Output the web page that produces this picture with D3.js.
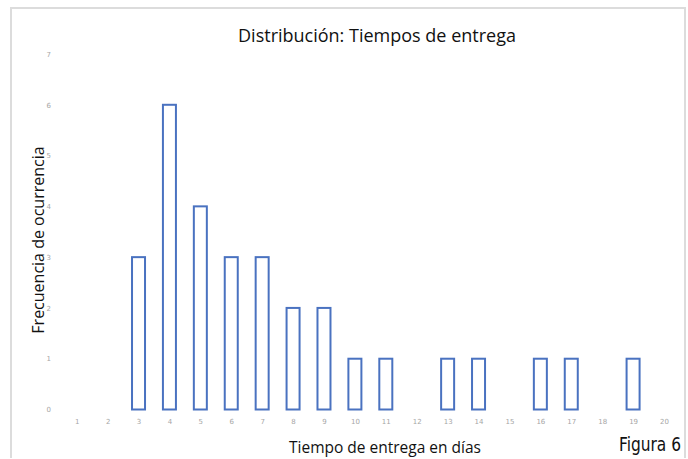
<!DOCTYPE html>
<html>
<head>
<meta charset="utf-8">
<script src="https://cdn.jsdelivr.net/npm/d3@7"></script>
<style>
  body { margin: 0; background: #fff; }
  svg { display: block; }
</style>
</head>
<body>
<script>
// tiempos de entrega (dias) y frecuencia
var dias = [1, 2, 3, 4, 5, 6, 7, 8, 9, 10, 11, 12, 13, 14, 15, 16, 17, 18, 19, 20];
var frecuencia = [0, 0, 3, 6, 4, 3, 3, 2, 2, 1, 1, 0, 1, 1, 0, 1, 1, 0, 1, 0];
var yTicks = [0, 1, 2, 3, 4, 5, 6, 7];

var width = 688, height = 459;

var svg = d3.select("body").append("svg")
    .attr("width", width)
    .attr("height", height);

// marco gris
svg.append("path")
    .attr("d", "M11,458 L11,8 L685,8 L685,458")
    .attr("fill", "none")
    .attr("stroke", "#dcdcdc")
    .attr("stroke-width", 2);

var x = d3.scalePoint()
    .domain(dias)
    .range([76.7, 664]);

var y = d3.scaleLinear()
    .domain([0, 7])
    .range([409.5, 54]);

var barW = 13;

// ejes sin lineas, solo etiquetas
var xAxis = svg.append("g")
    .attr("transform", "translate(0,409.5)")
    .call(d3.axisBottom(x).tickSize(0).tickPadding(10));
xAxis.select(".domain").remove();
xAxis.selectAll("text")
    .attr("fill", "#a6a6a6")
    .style("font-family", "'DejaVu Sans'")
    .style("font-size", "7px");

var yAxis = svg.append("g")
    .attr("transform", "translate(54,0)")
    .call(d3.axisLeft(y).tickValues(yTicks).tickFormat(d3.format("d")).tickSize(0).tickPadding(3));
yAxis.select(".domain").remove();
yAxis.selectAll("text")
    .attr("fill", "#a6a6a6")
    .style("font-family", "'DejaVu Sans'")
    .style("font-size", "7px");

svg.append("g")
    .selectAll("rect")
    .data(dias.filter(function(d, i) { return frecuencia[i] > 0; }))
    .enter().append("rect")
    .attr("x", function(d) { return x(d) - barW / 2; })
    .attr("y", function(d) { return y(frecuencia[d - 1]); })
    .attr("width", barW)
    .attr("height", function(d) { return y(0) - y(frecuencia[d - 1]); })
    .attr("fill", "#fff")
    .attr("stroke", "#4a72c0")
    .attr("stroke-width", 2);

svg.append("text")
    .attr("x", 377)
    .attr("y", 42)
    .attr("text-anchor", "middle")
    .style("font-family", "'Open Sans'")
    .style("font-size", "18px")
    .attr("fill", "#111")
    .text("Distribución: Tiempos de entrega");

svg.append("text")
    .attr("transform", "translate(44,240) rotate(-90)")
    .attr("text-anchor", "middle")
    .style("font-family", "'Open Sans'")
    .style("font-size", "16px")
    .attr("fill", "#111")
    .text("Frecuencia de ocurrencia");

svg.append("text")
    .attr("x", 385)
    .attr("y", 453)
    .attr("text-anchor", "middle")
    .style("font-family", "'Open Sans'")
    .style("font-size", "15.5px")
    .attr("fill", "#111")
    .text("Tiempo de entrega en días");

svg.append("text")
    .attr("x", 619)
    .attr("y", 451)
    .attr("textLength", 62)
    .attr("lengthAdjust", "spacingAndGlyphs")
    .style("font-family", "'Liberation Sans Narrow', 'DejaVu Sans Condensed'")
    .style("font-size", "19px")
    .attr("fill", "#111")
    .text("Figura 6");
</script>
</body>
</html>
